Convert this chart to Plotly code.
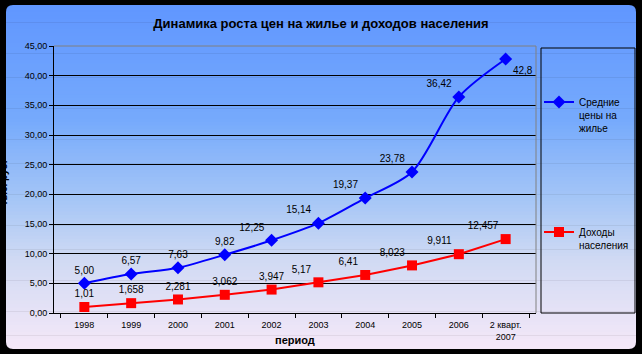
import plotly.graph_objects as go

categories = ["1998", "1999", "2000", "2001", "2002", "2003", "2004", "2005", "2006", "2 кварт.<br>2007"]
prices = [5.00, 6.57, 7.63, 9.82, 12.25, 15.14, 19.37, 23.78, 36.42, 42.8]
prices_lbl = ["5,00", "6,57", "7,63", "9,82", "12,25", "15,14", "19,37", "23,78", "36,42", "42,8"]
incomes = [1.01, 1.658, 2.281, 3.062, 3.947, 5.17, 6.41, 8.023, 9.911, 12.457]
incomes_lbl = ["1,01", "1,658", "2,281", "3,062", "3,947", "5,17", "6,41", "8,023", "9,911", "12,457"]

W, H = 642, 354
L, R, T, B = 54, 536, 46, 313  # plot area in px
FONT = "Liberation Sans, Arial, sans-serif"

def px(x):
    return (x - L) / (R - L)

def py(y):
    return (B - y) / (B - T)

shapes = []
# gradient background (frame)
fx0, fx1, fy0, fy1 = 6, 636, 5, 349
stops = [(5, (96, 150, 255)), (120, (118, 170, 252)), (200, (165, 198, 246)),
         (260, (208, 218, 243)), (349, (245, 232, 248))]

def grad(y):
    for (ya, ca), (yb, cb) in zip(stops[:-1], stops[1:]):
        if ya <= y <= yb:
            t = (y - ya) / (yb - ya)
            return tuple(round(ca[k] + (cb[k] - ca[k]) * t) for k in range(3))
    return stops[-1][1]

n = 100
for i in range(n):
    y0 = fy0 + (fy1 - fy0) * i / n
    y1 = fy0 + (fy1 - fy0) * (i + 1) / n + 0.6
    c = grad((y0 + y1) / 2)
    shapes.append(dict(type="rect", xref="paper", yref="paper", layer="below",
                       x0=px(fx0), x1=px(fx1), y0=py(y0), y1=py(min(y1, fy1)),
                       line=dict(width=0), fillcolor="rgb(%d,%d,%d)" % c))
# rounded corner masks
r = 7
def corner(cx, cy, sx, sy):
    p1 = (cx + sx * r, cy)
    p2 = (cx, cy + sy * r)
    path = "M %f,%f L %f,%f Q %f,%f %f,%f Z" % (
        px(cx), py(cy), px(p1[0]), py(p1[1]), px(cx), py(cy), px(p2[0]), py(p2[1]))
    return dict(type="path", xref="paper", yref="paper", layer="below", path=path,
                fillcolor="black", line=dict(width=0))
shapes += [corner(fx0, fy0, 1, 1), corner(fx1, fy0, -1, 1),
           corner(fx0, fy1, 1, -1), corner(fx1, fy1, -1, -1)]
# plot area border (gray, top and right)
shapes.append(dict(type="line", xref="paper", yref="paper", x0=0, x1=1, y0=1, y1=1,
                   line=dict(color="#808080", width=1), layer="above"))
shapes.append(dict(type="line", xref="paper", yref="paper", x0=1, x1=1, y0=0, y1=1,
                   line=dict(color="#808080", width=1), layer="above"))
# legend box
shapes.append(dict(type="rect", xref="paper", yref="paper", x0=px(541), x1=px(635),
                   y0=py(313), y1=py(48), line=dict(color="black", width=1), layer="below"))

fig = go.Figure()
fig.add_trace(go.Scatter(
    x=categories, y=prices, mode="lines+markers+text", name="Средние<br>цены на<br>жилье",
    legendgroup="a",
    line=dict(color="#0000FF", width=2, shape="spline", smoothing=0.8),
    marker=dict(symbol="diamond", size=10, color="#0000FF"),
    text=prices_lbl,
    textposition=["top center"] * 4 + ["top left"] * 5 + ["bottom right"],
    textfont=dict(family=FONT, size=10, color="black"),
    cliponaxis=False,
))
fig.add_trace(go.Scatter(
    x=categories, y=incomes, mode="lines+markers+text", name="Доходы<br>населения",
    legendgroup="b",
    line=dict(color="#FF0000", width=2),
    marker=dict(symbol="square", size=10, color="#FF0000"),
    text=incomes_lbl,
    textposition=["top center"] * 5 + ["top left"] * 5,
    textfont=dict(family=FONT, size=10, color="black"),
    cliponaxis=False,
))

fig.update_layout(
    width=W, height=H,
    margin=dict(l=L, r=W - R, t=T, b=H - B, autoexpand=False),
    paper_bgcolor="black",
    plot_bgcolor="rgba(0,0,0,0)",
    separators=", ",
    font=dict(family=FONT, size=9, color="black"),
    title=dict(text="<b>Динамика роста цен на жилье и доходов населения</b>",
               x=0.5, xref="container", y=1 - 23 / H, yref="container",
               xanchor="center", yanchor="middle",
               font=dict(family=FONT, size=13, color="black")),
    shapes=shapes,
    showlegend=True,
    legend=dict(x=539 / W, xref="container", xanchor="left",
                y=1 - 89 / H, yref="container", yanchor="top",
                bgcolor="rgba(0,0,0,0)", borderwidth=0,
                font=dict(family=FONT, size=10, color="black"),
                traceorder="grouped", tracegroupgap=88, valign="top", itemwidth=30),
    annotations=[
        dict(text="<b>тыс. руб.</b>", textangle=-90, x=px(-4), y=py(183),
             xref="paper", yref="paper", showarrow=False,
             font=dict(family=FONT, size=10, color="black")),
        dict(text="<b>период</b>", x=0.5, y=py(340), xref="paper", yref="paper",
             showarrow=False, xanchor="center", yanchor="middle",
             font=dict(family=FONT, size=11, color="black")),
    ],
)
fig.update_xaxes(
    type="category", showgrid=False, showline=True, linecolor="black", linewidth=1,
    ticks="outside", tickson="boundaries", ticklen=4, tickcolor="black",
    ticklabelstandoff=3,
    tickfont=dict(family=FONT, size=9, color="black"),
)
fig.update_yaxes(
    range=[0, 45], dtick=5, tickformat=".2f", showgrid=True, gridcolor="black", gridwidth=1,
    zeroline=False, showline=True, linecolor="black", linewidth=1,
    ticks="outside", ticklen=4, tickcolor="black",
    tickfont=dict(family=FONT, size=9, color="black"),
)

fig.write_html("out.html")
